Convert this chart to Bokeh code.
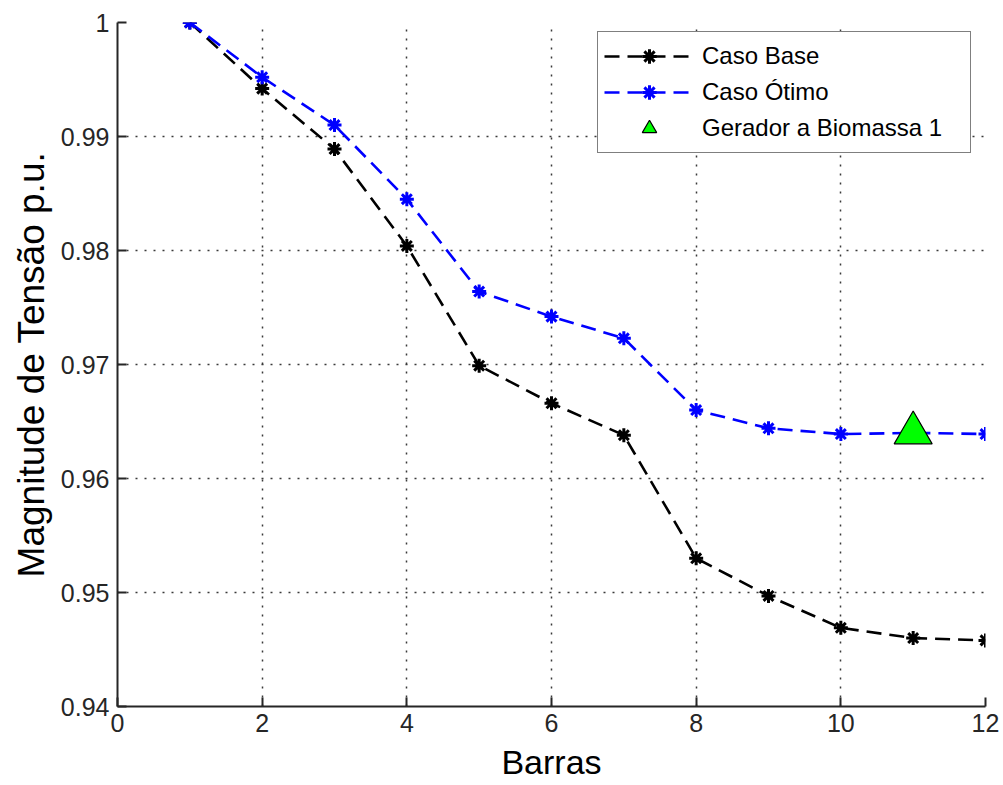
from bokeh.plotting import figure
from bokeh.models import Range1d, FixedTicker, Legend, LegendItem
from bokeh.embed import file_html
from bokeh.resources import INLINE

# ---- data ----
barras = [1, 2, 3, 4, 5, 6, 7, 8, 9, 10, 11, 12]
caso_base = [1.0000, 0.9942, 0.9889, 0.9804, 0.9699, 0.9666, 0.9638,
             0.9530, 0.9497, 0.9469, 0.9460, 0.9458]
caso_otimo = [1.0000, 0.9952, 0.9910, 0.9845, 0.9764, 0.9742, 0.9723,
              0.9660, 0.9644, 0.9639, 0.9640, 0.9639]
gerador_x = [11]
gerador_y = [0.9640]

x_ticks = [0, 2, 4, 6, 8, 10, 12]
x_tick_labels = ["0", "2", "4", "6", "8", "10", "12"]
y_ticks = [0.94, 0.95, 0.96, 0.97, 0.98, 0.99, 1.0]
y_tick_labels = ["0.94", "0.95", "0.96", "0.97", "0.98", "0.99", "1"]

FONT = "Liberation Sans"

p = figure(width=1003, height=785, output_backend="svg", toolbar_location=None,
           x_range=Range1d(0, 12), y_range=Range1d(0.94, 1.0),
           min_border_left=117, min_border_right=18, min_border_top=22,
           min_border_bottom=79)
p.outline_line_color = None
p.background_fill_color = "white"
p.border_fill_color = "white"

# grid
for g in (p.xgrid, p.ygrid):
    g.grid_line_color = "#3a3a3a"
    g.grid_line_dash = "2 7"
    g.grid_line_width = 1.5
p.xaxis.ticker = FixedTicker(ticks=x_ticks)
p.yaxis.ticker = FixedTicker(ticks=y_ticks)
p.xaxis.major_label_overrides = {t: l for t, l in zip(x_ticks, x_tick_labels)}
p.yaxis.major_label_overrides = {t: l for t, l in zip(y_ticks, y_tick_labels)}

for ax in (p.xaxis, p.yaxis):
    ax.axis_line_color = "#262626"
    ax.axis_line_width = 2
    ax.major_tick_line_color = "#262626"
    ax.major_tick_line_width = 2
    ax.major_tick_in = 9
    ax.major_tick_out = 0
    ax.minor_tick_line_color = None
    ax.major_label_text_font = FONT
    ax.major_label_text_font_size = "25px"
    ax.major_label_text_color = "#262626"
    ax.axis_label_text_font = FONT
    ax.axis_label_text_font_style = "normal"
    ax.axis_label_text_color = "black"

p.xaxis.major_label_standoff = 7
p.yaxis.major_label_standoff = 8
p.xaxis.axis_label = "Barras"
p.xaxis.axis_label_text_font_size = "34px"
p.xaxis.axis_label_standoff = 8
p.yaxis.axis_label = "Magnitude de Tensão p.u."
p.yaxis.axis_label_text_font_size = "37px"
p.yaxis.axis_label_standoff = 6

# series
lb = p.line(barras, caso_base, line_color="black", line_width=2.6, line_dash="15 8")
sb = p.scatter(barras, caso_base, marker="asterisk", size=14, line_color="black",
               line_width=3)
lo = p.line(barras, caso_otimo, line_color="blue", line_width=2.6, line_dash="15 8")
so = p.scatter(barras, caso_otimo, marker="asterisk", size=14, line_color="blue",
               line_width=3)
tg = p.scatter(gerador_x, gerador_y, marker="triangle", size=38,
               fill_color="#00ff00", line_color="black", line_width=1.2)

legend = Legend(items=[
    LegendItem(label="Caso Base", renderers=[lb, sb]),
    LegendItem(label="Caso Ótimo", renderers=[lo, so]),
    LegendItem(label="Gerador a Biomassa 1", renderers=[tg]),
], location=(480, 553))
legend.label_text_font = FONT
legend.label_text_font_size = "24px"
legend.label_text_color = "black"
legend.border_line_color = "black"
legend.border_line_width = 1.5
legend.background_fill_color = "white"
legend.background_fill_alpha = 1.0
legend.padding = 6
legend.spacing = 0
legend.margin = 0
legend.glyph_width = 90
legend.glyph_height = 36
legend.label_height = 36
legend.label_width = 262
legend.label_standoff = 8
p.add_layout(legend, "center")

open("out.html", "w").write(file_html(p, INLINE))
